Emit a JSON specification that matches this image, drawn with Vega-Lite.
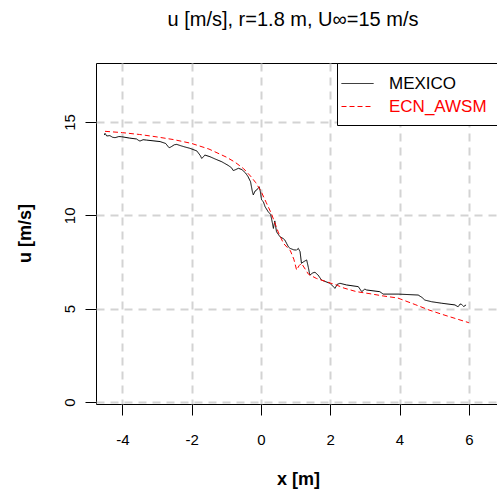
{
  "$schema": "https://vega.github.io/schema/vega-lite/v6.json",
  "width": 404,
  "height": 341,
  "autosize": "none",
  "padding": {"left": 96, "top": 63, "right": 0, "bottom": 85},
  "background": "white",
  "config": {
    "view": {"stroke": "black", "strokeWidth": 1},
    "font": "Liberation Sans",
    "axis": {"labelFont": "Liberation Sans", "titleFont": "Liberation Sans", "labelColor": "#000", "titleColor": "#000"}
  },
  "title": {"text": "u [m/s], r=1.8 m, U∞=15 m/s", "frame": "group", "anchor": "middle", "baseline": "alphabetic", "offset": 17, "dx": -5, "fontSize": 20, "fontWeight": "normal", "font": "Liberation Sans", "color": "#000"},
  "data": {"values": [
    {"x": -4.52, "u": 14.30, "series": "MEXICO"},
    {"x": -4.50, "u": 14.39, "series": "MEXICO"},
    {"x": -4.45, "u": 14.25, "series": "MEXICO"},
    {"x": -4.36, "u": 14.27, "series": "MEXICO"},
    {"x": -4.28, "u": 14.18, "series": "MEXICO"},
    {"x": -4.21, "u": 14.16, "series": "MEXICO"},
    {"x": -4.10, "u": 14.22, "series": "MEXICO"},
    {"x": -4.02, "u": 14.21, "series": "MEXICO"},
    {"x": -3.80, "u": 14.14, "series": "MEXICO"},
    {"x": -3.59, "u": 14.09, "series": "MEXICO"},
    {"x": -3.52, "u": 14.00, "series": "MEXICO"},
    {"x": -3.49, "u": 13.98, "series": "MEXICO"},
    {"x": -3.40, "u": 14.05, "series": "MEXICO"},
    {"x": -3.30, "u": 14.03, "series": "MEXICO"},
    {"x": -2.91, "u": 13.95, "series": "MEXICO"},
    {"x": -2.75, "u": 13.85, "series": "MEXICO"},
    {"x": -2.65, "u": 13.62, "series": "MEXICO"},
    {"x": -2.60, "u": 13.66, "series": "MEXICO"},
    {"x": -2.50, "u": 13.78, "series": "MEXICO"},
    {"x": -2.43, "u": 13.80, "series": "MEXICO"},
    {"x": -2.30, "u": 13.72, "series": "MEXICO"},
    {"x": -2.19, "u": 13.66, "series": "MEXICO"},
    {"x": -2.05, "u": 13.59, "series": "MEXICO"},
    {"x": -1.85, "u": 13.45, "series": "MEXICO"},
    {"x": -1.75, "u": 13.20, "series": "MEXICO"},
    {"x": -1.71, "u": 13.05, "series": "MEXICO"},
    {"x": -1.65, "u": 13.15, "series": "MEXICO"},
    {"x": -1.62, "u": 13.23, "series": "MEXICO"},
    {"x": -1.47, "u": 13.14, "series": "MEXICO"},
    {"x": -1.30, "u": 13.00, "series": "MEXICO"},
    {"x": -1.13, "u": 12.87, "series": "MEXICO"},
    {"x": -0.95, "u": 12.68, "series": "MEXICO"},
    {"x": -0.85, "u": 12.55, "series": "MEXICO"},
    {"x": -0.80, "u": 12.40, "series": "MEXICO"},
    {"x": -0.75, "u": 12.43, "series": "MEXICO"},
    {"x": -0.65, "u": 12.52, "series": "MEXICO"},
    {"x": -0.55, "u": 12.45, "series": "MEXICO"},
    {"x": -0.45, "u": 12.28, "series": "MEXICO"},
    {"x": -0.38, "u": 12.10, "series": "MEXICO"},
    {"x": -0.30, "u": 11.80, "series": "MEXICO"},
    {"x": -0.25, "u": 11.30, "series": "MEXICO"},
    {"x": -0.22, "u": 11.09, "series": "MEXICO"},
    {"x": -0.17, "u": 11.30, "series": "MEXICO"},
    {"x": -0.12, "u": 11.36, "series": "MEXICO"},
    {"x": -0.05, "u": 11.53, "series": "MEXICO"},
    {"x": -0.02, "u": 11.30, "series": "MEXICO"},
    {"x": 0.02, "u": 10.82, "series": "MEXICO"},
    {"x": 0.07, "u": 10.73, "series": "MEXICO"},
    {"x": 0.12, "u": 10.46, "series": "MEXICO"},
    {"x": 0.21, "u": 10.19, "series": "MEXICO"},
    {"x": 0.28, "u": 10.05, "series": "MEXICO"},
    {"x": 0.33, "u": 9.60, "series": "MEXICO"},
    {"x": 0.36, "u": 9.30, "series": "MEXICO"},
    {"x": 0.40, "u": 9.70, "series": "MEXICO"},
    {"x": 0.45, "u": 9.12, "series": "MEXICO"},
    {"x": 0.55, "u": 8.85, "series": "MEXICO"},
    {"x": 0.64, "u": 8.76, "series": "MEXICO"},
    {"x": 0.69, "u": 8.68, "series": "MEXICO"},
    {"x": 0.74, "u": 8.50, "series": "MEXICO"},
    {"x": 0.79, "u": 8.32, "series": "MEXICO"},
    {"x": 0.84, "u": 8.23, "series": "MEXICO"},
    {"x": 0.95, "u": 8.15, "series": "MEXICO"},
    {"x": 1.03, "u": 8.14, "series": "MEXICO"},
    {"x": 1.08, "u": 8.23, "series": "MEXICO"},
    {"x": 1.13, "u": 8.05, "series": "MEXICO"},
    {"x": 1.17, "u": 7.43, "series": "MEXICO"},
    {"x": 1.22, "u": 7.50, "series": "MEXICO"},
    {"x": 1.32, "u": 7.61, "series": "MEXICO"},
    {"x": 1.37, "u": 7.20, "series": "MEXICO"},
    {"x": 1.41, "u": 6.80, "series": "MEXICO"},
    {"x": 1.50, "u": 6.92, "series": "MEXICO"},
    {"x": 1.56, "u": 6.95, "series": "MEXICO"},
    {"x": 1.65, "u": 6.80, "series": "MEXICO"},
    {"x": 1.75, "u": 6.53, "series": "MEXICO"},
    {"x": 1.99, "u": 6.36, "series": "MEXICO"},
    {"x": 2.14, "u": 6.09, "series": "MEXICO"},
    {"x": 2.20, "u": 6.30, "series": "MEXICO"},
    {"x": 2.28, "u": 6.36, "series": "MEXICO"},
    {"x": 2.47, "u": 6.27, "series": "MEXICO"},
    {"x": 2.81, "u": 6.18, "series": "MEXICO"},
    {"x": 2.91, "u": 5.91, "series": "MEXICO"},
    {"x": 3.00, "u": 6.05, "series": "MEXICO"},
    {"x": 3.05, "u": 6.00, "series": "MEXICO"},
    {"x": 3.43, "u": 5.91, "series": "MEXICO"},
    {"x": 3.53, "u": 5.78, "series": "MEXICO"},
    {"x": 3.96, "u": 5.78, "series": "MEXICO"},
    {"x": 4.54, "u": 5.73, "series": "MEXICO"},
    {"x": 4.65, "u": 5.60, "series": "MEXICO"},
    {"x": 4.73, "u": 5.46, "series": "MEXICO"},
    {"x": 4.93, "u": 5.37, "series": "MEXICO"},
    {"x": 5.22, "u": 5.29, "series": "MEXICO"},
    {"x": 5.60, "u": 5.20, "series": "MEXICO"},
    {"x": 5.69, "u": 5.10, "series": "MEXICO"},
    {"x": 5.75, "u": 5.25, "series": "MEXICO"},
    {"x": 5.79, "u": 5.23, "series": "MEXICO"},
    {"x": 5.85, "u": 5.12, "series": "MEXICO"},
    {"x": 5.89, "u": 5.16, "series": "MEXICO"},
    {"x": 5.92, "u": 5.20, "series": "MEXICO"},
    {"x": -4.50, "u": 14.50, "series": "ECN_AWSM"},
    {"x": -4.00, "u": 14.43, "series": "ECN_AWSM"},
    {"x": -3.50, "u": 14.33, "series": "ECN_AWSM"},
    {"x": -3.00, "u": 14.20, "series": "ECN_AWSM"},
    {"x": -2.50, "u": 14.05, "series": "ECN_AWSM"},
    {"x": -2.00, "u": 13.85, "series": "ECN_AWSM"},
    {"x": -1.50, "u": 13.55, "series": "ECN_AWSM"},
    {"x": -1.00, "u": 13.12, "series": "ECN_AWSM"},
    {"x": -0.75, "u": 12.85, "series": "ECN_AWSM"},
    {"x": -0.50, "u": 12.50, "series": "ECN_AWSM"},
    {"x": -0.30, "u": 12.10, "series": "ECN_AWSM"},
    {"x": -0.15, "u": 11.75, "series": "ECN_AWSM"},
    {"x": 0.00, "u": 11.30, "series": "ECN_AWSM"},
    {"x": 0.15, "u": 10.70, "series": "ECN_AWSM"},
    {"x": 0.30, "u": 10.10, "series": "ECN_AWSM"},
    {"x": 0.50, "u": 9.10, "series": "ECN_AWSM"},
    {"x": 0.65, "u": 8.50, "series": "ECN_AWSM"},
    {"x": 0.85, "u": 8.10, "series": "ECN_AWSM"},
    {"x": 0.95, "u": 7.65, "series": "ECN_AWSM"},
    {"x": 1.03, "u": 7.07, "series": "ECN_AWSM"},
    {"x": 1.10, "u": 7.30, "series": "ECN_AWSM"},
    {"x": 1.17, "u": 7.43, "series": "ECN_AWSM"},
    {"x": 1.37, "u": 6.85, "series": "ECN_AWSM"},
    {"x": 1.60, "u": 6.62, "series": "ECN_AWSM"},
    {"x": 1.90, "u": 6.44, "series": "ECN_AWSM"},
    {"x": 2.20, "u": 6.25, "series": "ECN_AWSM"},
    {"x": 2.40, "u": 6.10, "series": "ECN_AWSM"},
    {"x": 2.76, "u": 5.91, "series": "ECN_AWSM"},
    {"x": 3.15, "u": 5.80, "series": "ECN_AWSM"},
    {"x": 3.53, "u": 5.68, "series": "ECN_AWSM"},
    {"x": 3.95, "u": 5.57, "series": "ECN_AWSM"},
    {"x": 4.45, "u": 5.22, "series": "ECN_AWSM"},
    {"x": 4.85, "u": 4.93, "series": "ECN_AWSM"},
    {"x": 5.22, "u": 4.70, "series": "ECN_AWSM"},
    {"x": 5.60, "u": 4.48, "series": "ECN_AWSM"},
    {"x": 6.00, "u": 4.25, "series": "ECN_AWSM"}
  ]},
  "mark": {"type": "line", "strokeWidth": 1},
  "encoding": {
    "x": {"field": "x", "type": "quantitative",
      "scale": {"domain": [-4.76, 6.9], "nice": false, "zero": false},
      "axis": {"values": [-4, -2, 0, 2, 4, 6], "labelExpr": "'' + datum.value", "title": "x [m]", "grid": true, "gridColor": "#d3d3d3", "gridWidth": 2, "gridDash": [8, 6],
        "domain": false, "ticks": true, "tickColor": "#000", "tickSize": 11, "tickWidth": 1,
        "labelFontSize": 15, "labelBaseline": "alphabetic", "labelPadding": 29, "labelFlush": false,
        "titleFontSize": 18, "titleFontWeight": "bold", "titleBaseline": "alphabetic", "titleY": 80}},
    "y": {"field": "u", "type": "quantitative",
      "scale": {"domain": [-0.107, 18.16], "nice": false, "zero": false},
      "axis": {"values": [0, 5, 10, 15], "title": "u [m/s]", "grid": true, "gridColor": "#d3d3d3", "gridWidth": 2, "gridDash": [8, 6],
        "domain": false, "ticks": true, "tickColor": "#000", "tickSize": 11, "tickWidth": 1,
        "labelFontSize": 15, "labelAngle": -90, "labelAlign": "center", "labelBaseline": "alphabetic", "labelPadding": 11, "labelFlush": false,
        "titleFontSize": 18, "titleFontWeight": "bold", "titleAngle": -90, "titleBaseline": "alphabetic", "titleX": -66, "titleY": 170}},
    "order": {"field": "x", "type": "quantitative"},
    "color": {"field": "series", "type": "nominal",
      "scale": {"domain": ["MEXICO", "ECN_AWSM"], "range": ["#000000", "#ff0000"]},
      "legend": {"orient": "none", "legendX": 241, "legendY": 0, "title": null, "strokeColor": "#000", "fillColor": "#fff", "padding": 10,
        "labelFontSize": 17, "labelFont": "Liberation Sans", "labelOffset": 21, "rowPadding": 4, "labelLimit": 400,
        "symbolType": "M-1.6,0H1.6", "symbolSize": 400, "symbolStrokeWidth": 1,
        "labelExpr": "datum.label + '          '",
        "labelColor": {"expr": "datum.label === 'MEXICO' ? '#000000' : '#ff0000'"}}},
    "strokeDash": {"field": "series", "type": "nominal",
      "scale": {"domain": ["MEXICO", "ECN_AWSM"], "range": [[1, 0], [5, 3]]}}
  }
}
